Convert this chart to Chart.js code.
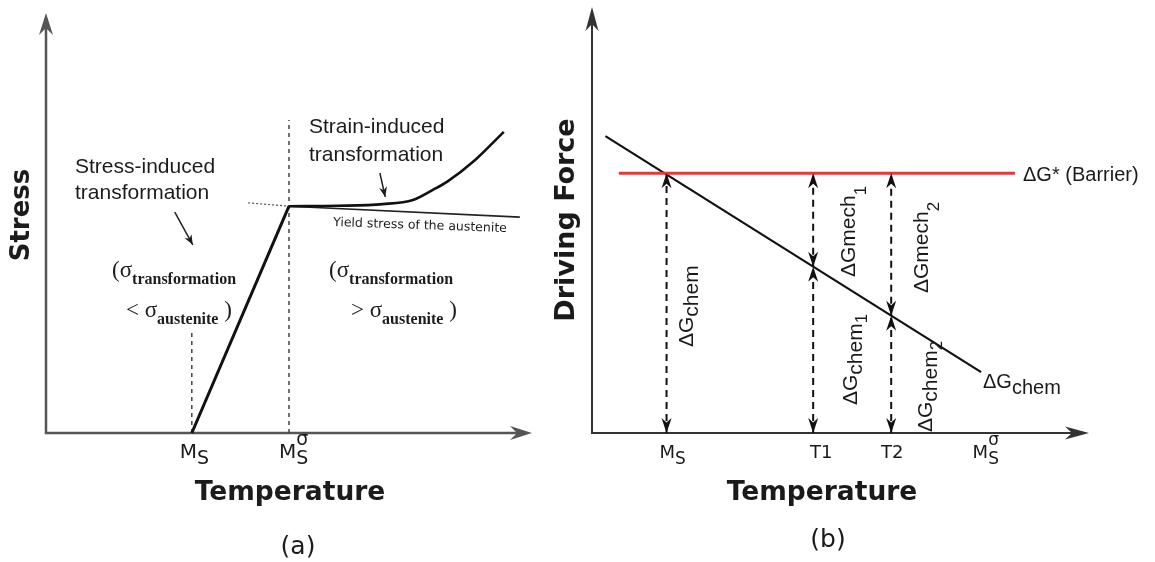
<!DOCTYPE html>
<html>
<head>
<meta charset="utf-8">
<script src="https://cdn.jsdelivr.net/npm/chart.js@4.4.1/dist/chart.umd.min.js"></script>
<style>
  html, body { margin: 0; padding: 0; background: #fff; }
  body { position: relative; width: 1155px; height: 562px; overflow: hidden; }
  canvas { position: absolute; top: 0; }
  #chartA { left: 0; }
  #chartB { left: 540px; }
</style>
</head>
<body>
<canvas id="chartA" width="540" height="562"></canvas>
<canvas id="chartB" width="615" height="562"></canvas>
<script>
// ---- (a) stress vs temperature (arbitrary units 0..100) ----
var ticksA = ['Ms', 'Msσ'];
var tickPosA = [30, 50];
var stressIndX = [30, 50];                 // stress-induced branch
var stressIndY = [0, 54];
var strainIndX = [50, 60, 69.3, 75.5, 79.6, 82.5, 88.3, 94.2];
var strainIndY = [54, 54.1, 54.5, 55.5, 57.9, 59.8, 65, 71.7];
var yieldX = [50, 97.5];                   // yield stress of the austenite
var yieldY = [54, 51.4];
var yieldExtX = [41.6, 50];
var yieldExtY = [54.8, 54];
var guideTopA = [24.5, 74.5];              // top of dashed guides at Ms, Ms^sigma

// ---- (b) driving force vs temperature ----
var ticksB = ['Ms', 'T1', 'T2', 'Msσ'];
var tickPosB = [15, 44.5, 60.2, 80];
var barrierX = [5.4, 85.1];
var barrier = 61;
var chemX = [2.7, 78.3];
var chemY = [69.7, 14.3];
var chemAt = [61, 39, 27.5];               // dG chem at Ms, T1, T2

function pts(xs, ys) {
  return xs.map(function (x, i) { return { x: x, y: ys[i] }; });
}

// stealth arrow head, tip at (x,y), pointing along ang
function head(ctx, x, y, ang, len, half, notch) {
  ctx.save();
  ctx.translate(x, y);
  ctx.rotate(ang);
  ctx.beginPath();
  ctx.moveTo(0, 0);
  ctx.lineTo(-len, -half);
  ctx.lineTo(-len + notch, 0);
  ctx.lineTo(-len, half);
  ctx.closePath();
  ctx.fill();
  ctx.restore();
}

// draw text made of runs [text, font, dy, noAdvance]
function runs(ctx, x, y, parts) {
  var cx = x;
  parts.forEach(function (p) {
    ctx.font = p[1];
    ctx.fillText(p[0], cx, y + (p[2] || 0));
    if (!p[3]) cx += ctx.measureText(p[0]).width;
  });
}

function vtext(ctx, x, y, parts) {
  ctx.save();
  ctx.translate(x, y);
  ctx.rotate(-Math.PI / 2);
  runs(ctx, 0, 0, parts);
  ctx.restore();
}

function title(ctx, txt, x, y, font, rot) {
  ctx.save();
  ctx.translate(x, y);
  if (rot) ctx.rotate(rot);
  ctx.font = font;
  ctx.textAlign = 'center';
  ctx.textBaseline = 'middle';
  ctx.fillText(txt, 0, 0);
  ctx.restore();
}

function msLabel(ctx, x, y, size, sigma) {
  var f = size + 'px "DejaVu Sans"', fs = (size - 1) + 'px "DejaVu Sans"';
  var p = [['M', f]];
  if (sigma) p.push(['σ', fs, -13, true]);
  p.push(['S', fs, 6]);
  runs(ctx, x, y, p);
}

var axesPlugin = {
  id: 'axes',
  beforeDatasetsDraw: function (chart, args, o) {
    var a = chart.chartArea, ctx = chart.ctx;
    ctx.save();
    ctx.strokeStyle = o.color;
    ctx.fillStyle = o.color;
    ctx.lineWidth = o.width;
    ctx.beginPath();
    ctx.moveTo(a.left, a.top + 10);
    ctx.lineTo(a.left, a.bottom);
    ctx.lineTo(a.right - 10, a.bottom);
    ctx.stroke();
    head(ctx, a.left, a.top, -Math.PI / 2, o.len, o.half, o.notch);
    head(ctx, a.right, a.bottom, 0, o.len, o.half, o.notch);
    ctx.restore();
  }
};

var baseScales = {
  x: { type: 'linear', min: 0, max: 100, display: false },
  y: { type: 'linear', min: 0, max: 100, display: false }
};

function line(data, color, width, extra) {
  var d = { data: data, borderColor: color, borderWidth: width, pointRadius: 0,
            showLine: true, fill: false, clip: false };
  for (var k in extra) d[k] = extra[k];
  return d;
}

// ================= panel (a) =================
var dsA = [
  line(pts(stressIndX, stressIndY), '#111', 3),
  line(pts(strainIndX, strainIndY), '#111', 2.6, { cubicInterpolationMode: 'monotone' }),
  line(pts(yieldX, yieldY), '#222', 1.6),
  line(pts(yieldExtX, yieldExtY), '#555', 1.2, { borderDash: [2, 2] })
];
tickPosA.forEach(function (t, i) {
  dsA.push(line([{ x: t, y: 0 }, { x: t, y: guideTopA[i] }], '#444', 1.5, { borderDash: [4, 4] }));
});

new Chart(document.getElementById('chartA'), {
  type: 'scatter',
  data: { datasets: dsA },
  options: {
    responsive: false,
    animation: false,
    events: [],
    layout: { padding: { left: 46, right: 8, top: 13, bottom: 129 } },
    scales: baseScales,
    plugins: {
      legend: { display: false },
      tooltip: { enabled: false },
      axes: { color: '#555', width: 2.5, len: 22, half: 7, notch: 7 }
    }
  },
  plugins: [axesPlugin, {
    id: 'textA',
    afterDraw: function (chart) {
      var ctx = chart.ctx, sx = chart.scales.x, sy = chart.scales.y;
      ctx.save();
      ctx.fillStyle = '#1c1c1c';
      ctx.strokeStyle = '#222';

      title(ctx, 'Stress', 22, 215, 'bold 26px "DejaVu Sans"', -Math.PI / 2);
      title(ctx, 'Temperature', 290, 493, 'bold 26.5px "DejaVu Sans"');
      title(ctx, '(a)', 298, 547, '25px "DejaVu Sans"');

      ctx.textBaseline = 'middle';
      ctx.font = '21px "Liberation Sans"';
      ctx.fillText('Stress-induced', 75, 167);
      ctx.fillText('transformation', 75, 193);
      ctx.fillText('Strain-induced', 309, 127);
      ctx.fillText('transformation', 309, 155);

      // pointer arrows
      [[26.5, 52.6, 30.2, 44.8], [68.7, 61.9, 69.8, 56.2]].forEach(function (a) {
        var x1 = sx.getPixelForValue(a[0]), y1 = sy.getPixelForValue(a[1]);
        var x2 = sx.getPixelForValue(a[2]), y2 = sy.getPixelForValue(a[3]);
        ctx.lineWidth = 1.5;
        ctx.beginPath(); ctx.moveTo(x1, y1); ctx.lineTo(x2, y2); ctx.stroke();
        head(ctx, x2, y2, Math.atan2(y2 - y1, x2 - x1), 10, 4, 3);
      });

      // sigma relations
      ctx.textBaseline = 'alphabetic';
      var sf = '23px "Liberation Serif"', sb = 'bold 16px "Liberation Serif"';
      runs(ctx, 112, 277, [['(', sf], ['σ', sf], ['transformation', sb, 7]]);
      runs(ctx, 126, 317, [['< ', sf], ['σ', sf], ['austenite', sb, 7], [' )', sf]]);
      runs(ctx, 329, 277, [['(', sf], ['σ', sf], ['transformation', sb, 7]]);
      runs(ctx, 351, 317, [['> ', sf], ['σ', sf], ['austenite', sb, 7], [' )', sf]]);

      ctx.save();
      ctx.translate(333, 226);
      ctx.rotate(0.035);
      ctx.font = '12.5px "DejaVu Sans"';
      ctx.fillText('Yield stress of the austenite', 0, 0);
      ctx.restore();

      // temperature ticks
      var offA = [-12, -10];
      ticksA.forEach(function (t, i) {
        msLabel(ctx, sx.getPixelForValue(tickPosA[i]) + offA[i], 458, 20, t === 'Msσ');
      });
      ctx.restore();
    }
  }]
});

// ================= panel (b) =================
var dsB = [
  line(pts(barrierX, [barrier, barrier]), '#f23333', 3),
  line(pts(chemX, chemY), '#111', 2.2)
];
tickPosB.slice(0, 3).forEach(function (t, i) {
  dsB.push(line([{ x: t, y: 0 }, { x: t, y: chemAt[i] }], '#111', 2, { borderDash: [7, 5], arrows: true }));
  if (chemAt[i] < barrier) {
    dsB.push(line([{ x: t, y: chemAt[i] }, { x: t, y: barrier }], '#111', 2, { borderDash: [7, 5], arrows: true }));
  }
});

new Chart(document.getElementById('chartB'), {
  type: 'scatter',
  data: { datasets: dsB },
  options: {
    responsive: false,
    animation: false,
    events: [],
    layout: { padding: { left: 52, right: 66, top: 7, bottom: 129 } },
    scales: baseScales,
    plugins: {
      legend: { display: false },
      tooltip: { enabled: false },
      axes: { color: '#333', width: 2, len: 24, half: 6.5, notch: 7 }
    }
  },
  plugins: [axesPlugin, {
    id: 'textB',
    afterDatasetsDraw: function (chart) {
      var ctx = chart.ctx;
      ctx.save();
      ctx.fillStyle = '#111';
      chart.data.datasets.forEach(function (d, i) {
        if (!d.arrows) return;
        var m = chart.getDatasetMeta(i).data;
        var lo = m[0].y > m[1].y ? m[0] : m[1], hi = lo === m[0] ? m[1] : m[0];
        head(ctx, hi.x, hi.y, -Math.PI / 2, 15, 5, 4.5);
        head(ctx, lo.x, lo.y, Math.PI / 2, 15, 5, 4.5);
      });
      ctx.restore();
    },
    afterDraw: function (chart) {
      var ctx = chart.ctx, sx = chart.scales.x;
      ctx.save();
      ctx.fillStyle = '#1a1a1a';

      title(ctx, 'Driving Force', 27, 220, 'bold 27px "DejaVu Sans"', -Math.PI / 2);
      title(ctx, 'Temperature', 282, 493, 'bold 26.5px "DejaVu Sans"');
      title(ctx, '(b)', 288, 540, '25px "DejaVu Sans"');

      ctx.textBaseline = 'middle';
      ctx.font = '20px "Liberation Sans"';
      ctx.fillText('ΔG* (Barrier)', 483, 175);

      ctx.textBaseline = 'alphabetic';
      var lf = '21px "Liberation Sans"', df = '17px "Liberation Sans"';
      runs(ctx, 443, 388, [['ΔG', '20px "Liberation Sans"'], ['chem', '20px "Liberation Sans"', 6]]);
      vtext(ctx, 153, 347, [['ΔG', lf], ['chem', lf, 5]]);
      vtext(ctx, 315, 277, [['ΔG', lf], ['mech', lf], ['1', df, 11]]);
      vtext(ctx, 317, 405, [['ΔG', lf], ['chem', lf, 5], ['1', df, 10]]);
      vtext(ctx, 388, 293, [['ΔG', lf], ['mech', lf], ['2', df, 11]]);
      vtext(ctx, 392, 432, [['ΔG', lf], ['chem', lf, 5], ['2', df, 10]]);

      // temperature ticks
      var offB = [-7, 8, 1, -17];
      ticksB.forEach(function (t, i) {
        var x = sx.getPixelForValue(tickPosB[i]) + offB[i];
        if (t.charAt(0) === 'M') {
          msLabel(ctx, x, 458, 18, t === 'Msσ');
        } else {
          ctx.font = '18px "DejaVu Sans"';
          ctx.textAlign = 'center';
          ctx.fillText(t, x, 458);
          ctx.textAlign = 'left';
        }
      });
      ctx.restore();
    }
  }]
});
</script>
</body>
</html>
